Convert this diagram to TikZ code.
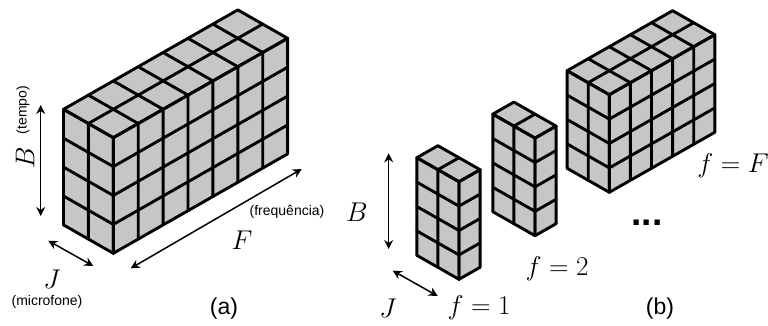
\documentclass[tikz,border=0pt]{standalone}
\usepackage{fontspec}
\setmainfont{Liberation Sans}
\usepackage{xcolor}
\usetikzlibrary{arrows.meta}
\definecolor{cellgray}{RGB}{198,198,198}
\newcommand{\cube}[7]{%
\begin{scope}[shift={(#1,#2)}]
\fill[cellgray] (0,0) -- ({#3*#5},{-#3*#6}) -- ({#3*#5},{-#3*#6-4*#7}) -- ({(#3-#4)*#5},{-(#3+#4)*#6-4*#7}) -- ({-#4*#5},{-#4*#6-4*#7}) -- ({-#4*#5},{-#4*#6}) -- cycle;
\foreach \b in {0,...,4} {
  \draw[grid] ({-#4*#5},{-#4*#6-\b*#7}) -- (0,{-\b*#7}) -- ({#3*#5},{-#3*#6-\b*#7});
}
\foreach \j in {0,...,#4} {
  \draw[grid] ({-\j*#5},{-\j*#6}) -- ({-\j*#5},{-\j*#6-4*#7}) -- ({(#3-\j)*#5},{-(#3+\j)*#6-4*#7});
}
\foreach \k in {0,...,#3} {
  \draw[grid] ({\k*#5},{-\k*#6}) -- ({\k*#5},{-\k*#6-4*#7}) -- ({(\k-#4)*#5},{-(\k+#4)*#6-4*#7});
}
\end{scope}}
\begin{document}
\begin{tikzpicture}[x=1pt, y=-1pt,
  grid/.style={draw=black, line width=2.9pt, line join=round, line cap=round},
  arr/.style={{Stealth[length=9pt,width=9pt]}-{Stealth[length=9pt,width=9pt]}, line width=1.5pt},
  small/.style={font=\fontsize{14}{16}\selectfont},
  caption/.style={font=\fontsize{23}{25}\selectfont},
  sym/.style={font=\fontsize{25}{27}\selectfont, scale=1.09, transform shape}]
\useasboundingbox (0,0) rectangle (768,325);
\cube{113.3}{253.3}{7}{2}{24.9}{14.2}{28.9}
\cube{459}{279.3}{1}{2}{21.1}{12}{24.4}
\cube{535}{235.7}{1}{2}{21.1}{12}{24.4}
\cube{609.3}{192.3}{5}{2}{21.1}{12}{24.4}
\coordinate (btop) at (40.7,105);
\coordinate (bbot) at (40.7,216);
\coordinate (jback) at (48.3,240.7);
\coordinate (jfront) at (93.3,266);
\coordinate (fright) at (301.7,169);
\coordinate (fleft) at (130.7,268.3);
\coordinate (bbtop) at (388.7,153.3);
\coordinate (bbbot) at (388.7,249);
\coordinate (jjback) at (392.7,270.7);
\coordinate (jjfront) at (437.7,296);
\draw[arr] (btop) -- (bbot);
\draw[arr] (jback) -- (jfront);
\draw[arr] (fright) -- (fleft);
\draw[arr] (bbtop) -- (bbbot);
\draw[arr] (jjback) -- (jjfront);
\node[sym, rotate=90] (bleft) at (25,158) {$B$};
\node[small, rotate=90] (tempo) at (23,110) {(tempo)};
\node[sym] (jleft) at (52,279) {$J$};
\node[small] (micro) at (47,302) {(microfone)};
\node[sym] (fcap) at (242,240) {$F$};
\node[small] (freq) at (287,212) {(frequência)};
\node[caption] (capa) at (224,309) {(a)};
\node[sym] (bright) at (357,212) {$B$};
\node[sym] (jright) at (388,308) {$J$};
\node[sym] (fone) at (479,308) {$f=1$};
\node[sym] (ftwo) at (557,269) {$f=2$};
\node[sym] (fbig) at (733,166) {$f=F$};
\node[font=\fontsize{37}{39}\selectfont\bfseries, anchor=base] (dots) at (647,225) {...};
\node[caption] (capb) at (660,309) {(b)};
\end{tikzpicture}
\end{document}
